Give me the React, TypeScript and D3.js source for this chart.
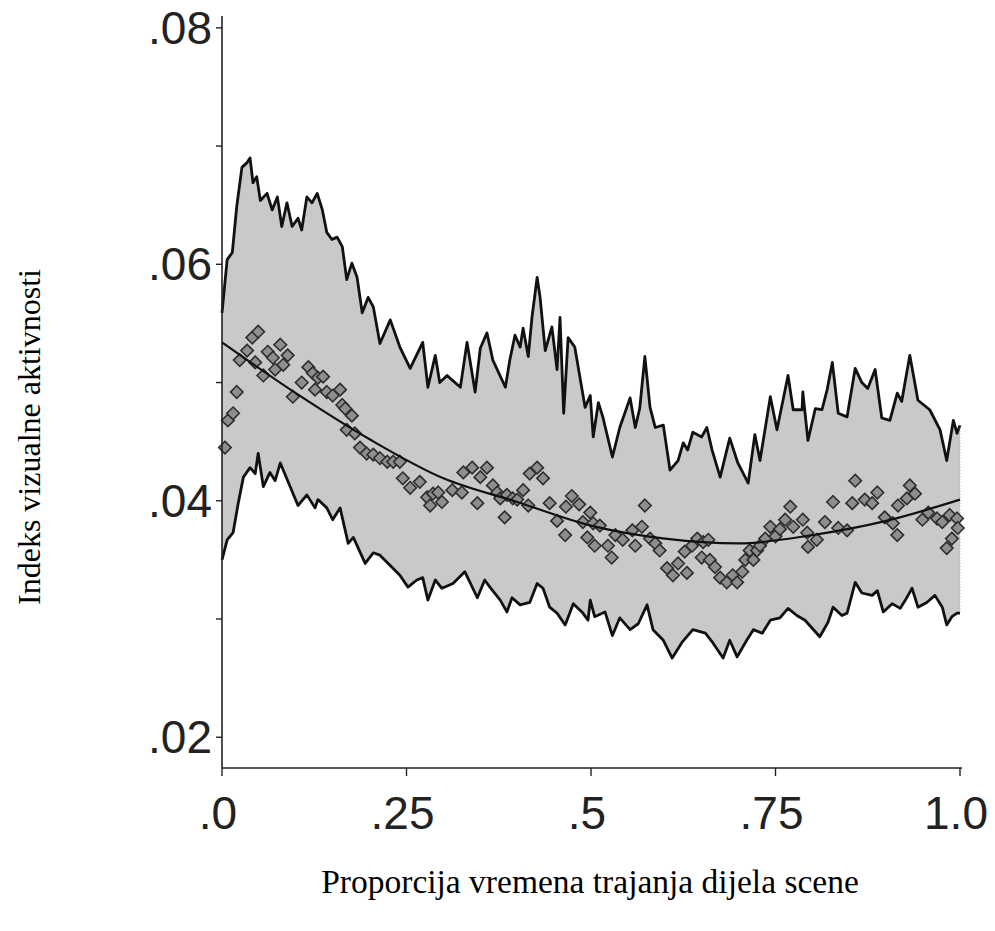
import * as d3 from "d3";
import React from "react";

// [proportion of scene time, visual activity index]
const upperBand: [number, number][] = [
  [0, 0.0559], [0.007, 0.0604], [0.014, 0.061], [0.02, 0.0649], [0.027, 0.0682], [0.034, 0.0686],
  [0.038, 0.069], [0.042, 0.0669], [0.047, 0.0674], [0.052, 0.0654], [0.061, 0.066], [0.068, 0.0646],
  [0.075, 0.0657], [0.081, 0.0632], [0.088, 0.0652], [0.095, 0.0632], [0.103, 0.0639], [0.108, 0.0629],
  [0.115, 0.0657], [0.122, 0.0652], [0.129, 0.066], [0.136, 0.0646], [0.142, 0.0627], [0.149, 0.0621],
  [0.156, 0.0623], [0.163, 0.0615], [0.169, 0.0587], [0.176, 0.0601], [0.183, 0.0589], [0.19, 0.0559],
  [0.198, 0.0572], [0.205, 0.0564], [0.214, 0.0533], [0.228, 0.0553], [0.241, 0.053], [0.255, 0.0512],
  [0.272, 0.0534], [0.279, 0.0496], [0.289, 0.0523], [0.295, 0.05], [0.305, 0.0506], [0.312, 0.0502],
  [0.323, 0.0496], [0.332, 0.0534], [0.343, 0.0492], [0.35, 0.0529], [0.359, 0.0542], [0.367, 0.0519],
  [0.384, 0.0496], [0.39, 0.0519], [0.397, 0.054], [0.404, 0.053], [0.408, 0.0546], [0.415, 0.0522],
  [0.42, 0.0555], [0.427, 0.0589], [0.431, 0.0572], [0.438, 0.0527], [0.447, 0.0547], [0.454, 0.0511],
  [0.458, 0.0555], [0.463, 0.0474], [0.469, 0.0538], [0.478, 0.053], [0.492, 0.0479], [0.499, 0.0489],
  [0.503, 0.0454], [0.51, 0.0483], [0.516, 0.0471], [0.529, 0.0437], [0.539, 0.0462], [0.553, 0.0487],
  [0.56, 0.0462], [0.566, 0.0478], [0.573, 0.0522], [0.58, 0.0479], [0.587, 0.0462], [0.598, 0.0464],
  [0.607, 0.0426], [0.618, 0.0434], [0.625, 0.0449], [0.631, 0.0443], [0.638, 0.0458], [0.65, 0.0454],
  [0.657, 0.0462], [0.664, 0.0443], [0.675, 0.042], [0.688, 0.0453], [0.699, 0.0432], [0.713, 0.0415],
  [0.722, 0.0456], [0.729, 0.0434], [0.743, 0.0488], [0.752, 0.046], [0.767, 0.0506], [0.774, 0.0477],
  [0.786, 0.0477], [0.787, 0.0492], [0.794, 0.0451], [0.804, 0.0478], [0.813, 0.0477], [0.82, 0.0494],
  [0.827, 0.0517], [0.835, 0.0474], [0.847, 0.0471], [0.858, 0.0512], [0.867, 0.05], [0.875, 0.0495],
  [0.885, 0.0511], [0.894, 0.047], [0.905, 0.0468], [0.915, 0.0491], [0.921, 0.0484], [0.932, 0.0523],
  [0.943, 0.0485], [0.959, 0.0477], [0.973, 0.046], [0.982, 0.0434], [0.991, 0.0468], [0.996, 0.0457],
  [1, 0.0464],
];

const lowerBand: [number, number][] = [
  [0, 0.035], [0.007, 0.0367], [0.015, 0.0373], [0.022, 0.0398], [0.029, 0.042], [0.038, 0.0428],
  [0.045, 0.0423], [0.049, 0.044], [0.056, 0.0412], [0.065, 0.0424], [0.072, 0.0417], [0.079, 0.0432],
  [0.089, 0.0417], [0.103, 0.0396], [0.115, 0.0405], [0.126, 0.0394], [0.13, 0.0401], [0.142, 0.0394],
  [0.15, 0.0384], [0.16, 0.0394], [0.171, 0.0364], [0.178, 0.0369], [0.194, 0.0347], [0.205, 0.0356],
  [0.214, 0.0354], [0.23, 0.0344], [0.241, 0.0337], [0.252, 0.0327], [0.264, 0.0333], [0.272, 0.0335],
  [0.279, 0.0316], [0.289, 0.0333], [0.298, 0.0326], [0.313, 0.033], [0.329, 0.034], [0.346, 0.0318],
  [0.356, 0.0333], [0.363, 0.0327], [0.377, 0.0316], [0.386, 0.0306], [0.393, 0.0318], [0.404, 0.0312],
  [0.417, 0.0314], [0.427, 0.033], [0.435, 0.0326], [0.444, 0.031], [0.454, 0.0305], [0.465, 0.0295],
  [0.476, 0.0313], [0.489, 0.0305], [0.496, 0.0299], [0.499, 0.0316], [0.505, 0.0302], [0.519, 0.0306],
  [0.529, 0.0286], [0.539, 0.0301], [0.553, 0.0291], [0.564, 0.0296], [0.576, 0.0312], [0.584, 0.0291],
  [0.598, 0.0282], [0.61, 0.0267], [0.623, 0.028], [0.638, 0.0291], [0.655, 0.0288], [0.665, 0.028],
  [0.679, 0.0267], [0.688, 0.0282], [0.698, 0.0268], [0.711, 0.0282], [0.72, 0.0291], [0.732, 0.0288],
  [0.743, 0.0299], [0.756, 0.0301], [0.767, 0.0309], [0.779, 0.0303], [0.79, 0.0299], [0.8, 0.0292],
  [0.81, 0.0285], [0.821, 0.0297], [0.828, 0.031], [0.84, 0.0303], [0.847, 0.0305], [0.858, 0.0331],
  [0.867, 0.0322], [0.881, 0.032], [0.888, 0.0324], [0.896, 0.0306], [0.908, 0.0313], [0.919, 0.0309],
  [0.926, 0.0316], [0.935, 0.0326], [0.943, 0.031], [0.955, 0.0314], [0.966, 0.032], [0.976, 0.031],
  [0.982, 0.0295], [0.989, 0.0302], [0.996, 0.0305], [1, 0.0305],
];

const points: [number, number][] = [
  [0.004, 0.0445], [0.008, 0.0468], [0.015, 0.0474], [0.02, 0.0492], [0.024, 0.0519], [0.034, 0.0527],
  [0.041, 0.0538], [0.045, 0.0517], [0.049, 0.0543], [0.056, 0.0506], [0.062, 0.0526], [0.069, 0.0521],
  [0.072, 0.0511], [0.079, 0.0532], [0.083, 0.0515], [0.089, 0.0523], [0.096, 0.0488], [0.108, 0.05],
  [0.117, 0.0513], [0.123, 0.0508], [0.126, 0.0494], [0.13, 0.0504], [0.137, 0.0505], [0.142, 0.0492],
  [0.15, 0.0489], [0.16, 0.0494], [0.163, 0.0481], [0.167, 0.0478], [0.169, 0.046], [0.176, 0.0472],
  [0.18, 0.0457], [0.187, 0.0445], [0.196, 0.044], [0.205, 0.0439], [0.214, 0.0436], [0.224, 0.0433],
  [0.232, 0.0433], [0.241, 0.0433], [0.245, 0.0419], [0.255, 0.0411], [0.268, 0.0416], [0.278, 0.0403],
  [0.282, 0.0396], [0.286, 0.0406], [0.293, 0.0407], [0.298, 0.0399], [0.312, 0.0409], [0.325, 0.0407],
  [0.327, 0.0424], [0.339, 0.0428], [0.346, 0.0398], [0.35, 0.042], [0.359, 0.0428], [0.367, 0.0413],
  [0.373, 0.0407], [0.377, 0.0402], [0.383, 0.0386], [0.386, 0.0405], [0.394, 0.0402], [0.4, 0.0401],
  [0.408, 0.0409], [0.415, 0.0396], [0.417, 0.0423], [0.427, 0.0428], [0.435, 0.0419], [0.444, 0.0398],
  [0.454, 0.0383], [0.465, 0.0371], [0.466, 0.0395], [0.474, 0.0404], [0.484, 0.0397], [0.489, 0.0382],
  [0.495, 0.0369], [0.499, 0.039], [0.503, 0.0381], [0.505, 0.0362], [0.512, 0.0379], [0.523, 0.0362],
  [0.528, 0.0352], [0.533, 0.0371], [0.543, 0.0367], [0.556, 0.0375], [0.56, 0.0362], [0.569, 0.0378],
  [0.573, 0.0396], [0.58, 0.0368], [0.587, 0.0364], [0.593, 0.0358], [0.603, 0.0343], [0.611, 0.0337],
  [0.618, 0.0347], [0.627, 0.0357], [0.63, 0.0339], [0.637, 0.0362], [0.644, 0.0368], [0.65, 0.0352],
  [0.652, 0.0365], [0.659, 0.0367], [0.661, 0.035], [0.668, 0.0344], [0.675, 0.0335], [0.684, 0.0331],
  [0.692, 0.0337], [0.698, 0.0331], [0.705, 0.034], [0.709, 0.035], [0.715, 0.0358], [0.72, 0.035],
  [0.725, 0.0358], [0.729, 0.0362], [0.736, 0.0368], [0.743, 0.0378], [0.75, 0.037], [0.756, 0.0376],
  [0.763, 0.0384], [0.77, 0.0395], [0.774, 0.0378], [0.787, 0.0384], [0.793, 0.0373], [0.794, 0.0361],
  [0.806, 0.0367], [0.817, 0.0382], [0.828, 0.0399], [0.835, 0.0377], [0.847, 0.0375], [0.854, 0.0398],
  [0.858, 0.0417], [0.871, 0.0401], [0.881, 0.0398], [0.888, 0.0407], [0.898, 0.0386], [0.909, 0.0381],
  [0.915, 0.0371], [0.916, 0.0396], [0.928, 0.0402], [0.932, 0.0413], [0.939, 0.0406], [0.949, 0.0384],
  [0.957, 0.039], [0.969, 0.0385], [0.976, 0.0382], [0.982, 0.036], [0.986, 0.0388], [0.989, 0.0368],
  [0.996, 0.0385], [0.997, 0.0377],
];

const fitCurve: [number, number][] = [
  [0, 0.0534], [0.1, 0.0491], [0.2, 0.0452], [0.3, 0.0419], [0.4, 0.0399], [0.5, 0.0379],
  [0.6, 0.0368], [0.7, 0.0364], [0.8, 0.0371], [0.9, 0.0383], [1, 0.0401],
];

const xTicks = [0, 0.25, 0.5, 0.75, 1];
const xTickLabels = [".0", ".25", ".5", ".75", "1.0"];
const yTicks = [0.02, 0.03, 0.04, 0.05, 0.06, 0.07, 0.08];
const yTickLabels: Record<string, string> = { "0.02": ".02", "0.04": ".04", "0.06": ".06", "0.08": ".08" };

const W = 995;
const H = 931;

export default function App() {
  const x = d3.scaleLinear().domain([0, 1]).range([222, 960]);
  const y = d3.scaleLinear().domain([0.0174, 0.081]).range([768, 16]);

  const line = d3
    .line<[number, number]>()
    .x((d) => x(d[0]))
    .y((d) => y(d[1]));

  const bandPath = line([...upperBand, ...lowerBand.slice().reverse()]) + "Z";
  const fitPath = d3
    .line<[number, number]>()
    .x((d) => x(d[0]))
    .y((d) => y(d[1]))
    .curve(d3.curveMonotoneX)(fitCurve);
  const diamond = d3.symbol(d3.symbolDiamond2, 100)();

  const sans = "'Liberation Sans', Arial, Helvetica, sans-serif";
  const serif = "'Liberation Serif', 'Times New Roman', serif";

  return (
    <svg width={W} height={H} style={{ position: "absolute", left: 0, top: 0, background: "#fff" }}>
      <path d={bandPath} fill="#c9c9c9" stroke="none" />
      <path d={line(upperBand)!} fill="none" stroke="#111" strokeWidth={2.8} strokeLinejoin="round" />
      <path d={line(lowerBand)!} fill="none" stroke="#111" strokeWidth={2.8} strokeLinejoin="round" />
      <line x1={x(1)} x2={x(1)} y1={y(0.0464)} y2={y(0.0305)} stroke="#aaa" strokeDasharray="1 2" />

      {points.map((d, i) => (
        <path
          key={i}
          d={diamond!}
          transform={`translate(${x(d[0])},${y(d[1])})`}
          fill="#8e8e8e"
          stroke="#2e2e2e"
          strokeWidth={1.6}
        />
      ))}
      <path d={fitPath!} fill="none" stroke="#111" strokeWidth={2.2} />

      {/* y axis */}
      <line x1={x(0)} x2={x(0)} y1={y.range()[1]} y2={y.range()[0]} stroke="#222" strokeWidth={1.6} />
      {yTicks.map((t) => (
        <g key={t}>
          <line x1={x(0) - 6} x2={x(0)} y1={y(t)} y2={y(t)} stroke="#222" strokeWidth={1.4} />
          {yTickLabels[t.toFixed(2)] && (
            <text x={x(0) - 10} y={y(t) + 16} textAnchor="end" fontFamily={sans} fontSize={46} fill="#222">
              {yTickLabels[t.toFixed(2)]}
            </text>
          )}
        </g>
      ))}

      {/* x axis */}
      <line x1={x(0)} x2={x(1) + 2} y1={y.range()[0]} y2={y.range()[0]} stroke="#222" strokeWidth={1.6} />
      {xTicks.map((t, i) => (
        <g key={t}>
          <line x1={x(t)} x2={x(t)} y1={y.range()[0]} y2={y.range()[0] + 8} stroke="#222" strokeWidth={1.4} />
          <text x={x(t) - 4} y={829} textAnchor="middle" fontFamily={sans} fontSize={46} fill="#222">
            {xTickLabels[i]}
          </text>
        </g>
      ))}

      <text x={590} y={893} textAnchor="middle" fontFamily={serif} fontSize={33.5} fill="#000">
        Proporcija vremena trajanja dijela scene
      </text>
      <text
        transform={`translate(40,437) rotate(-90)`}
        textAnchor="middle"
        fontFamily={serif}
        fontSize={32}
        fill="#000"
      >
        Indeks vizualne aktivnosti
      </text>
    </svg>
  );
}
